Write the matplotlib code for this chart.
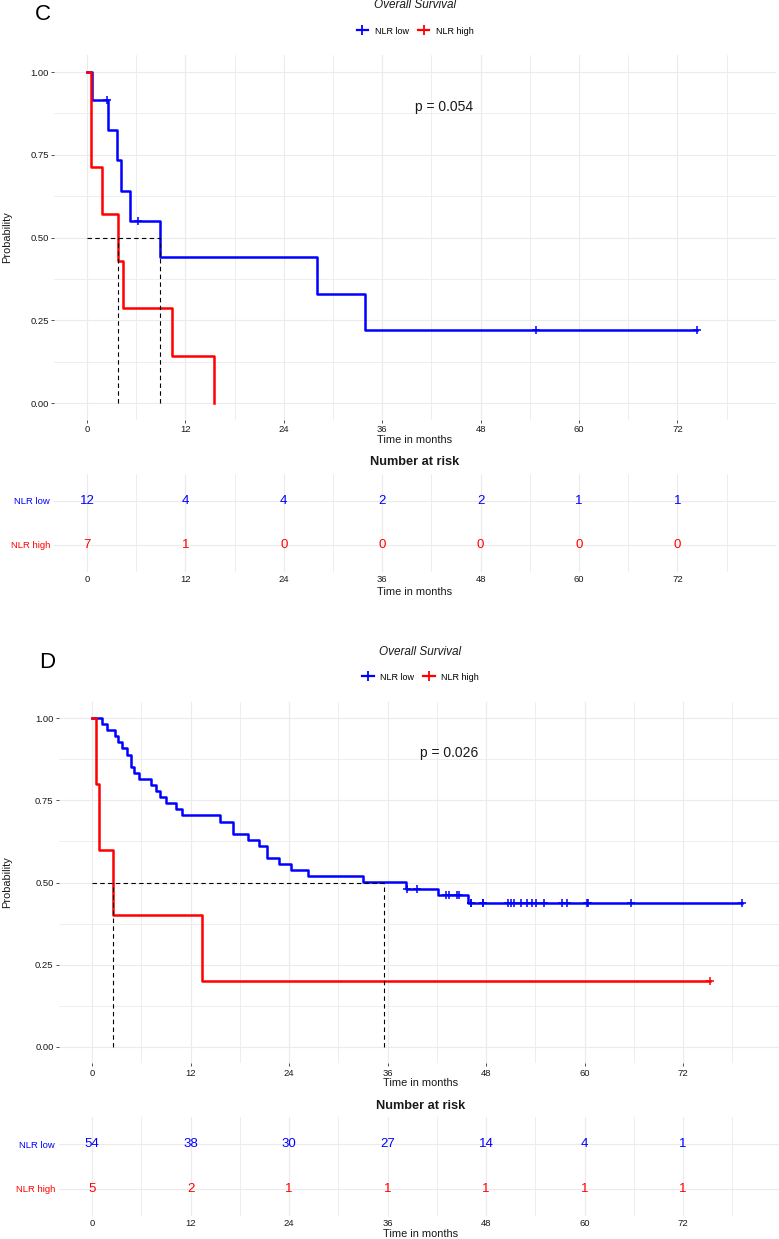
import matplotlib
matplotlib.use("Agg")
import matplotlib.pyplot as plt
from matplotlib.lines import Line2D
import numpy as np

plt.rcParams['font.family'] = ['Liberation Sans', 'DejaVu Sans']

# panel C: follow-up in months, 1 = death, 0 = censored
c_low_time = [0.57, 2.4, 2.6, 3.7, 4.15, 5.3, 6.2, 8.9, 28.1, 33.9, 54.8, 74.4]
c_low_status = [1, 0, 1, 1, 1, 1, 0, 1, 1, 1, 0, 0]
c_high_time = [0.45, 0.45, 1.8, 3.8, 4.4, 10.4, 15.5]
c_high_status = [1, 1, 1, 1, 1, 1, 1]
c_pval = "p = 0.054"
c_risk_low = [12, 4, 4, 2, 2, 1, 1]
c_risk_high = [7, 1, 0, 0, 0, 0, 0]

# panel D
d_low_time = [1.18, 1.87, 2.8, 3.13, 3.61, 4.3, 4.75, 4.75, 5.16, 5.72, 7.19, 7.8,
              8.28, 8.97, 10.23, 10.92, 15.59, 17.21, 17.21, 18.96, 20.34, 21.36,
              21.36, 22.82, 24.2, 26.35, 33.05,
              38.2, 38.4, 39.6, 42.2, 43.1, 43.5, 44.5, 44.7, 45.8, 46.2, 46.2,
              47.6, 47.6, 50.7, 51.0, 51.4, 52.3, 53.0, 53.6, 54.1, 55.1, 57.2,
              57.8, 60.25, 60.4, 65.7, 79.2]
d_low_status = [1] * 27 + [1, 0, 0, 1, 0, 0, 0, 0, 1] + [0] * 18
d_high_time = [0.45, 0.85, 2.6, 13.4, 75.3]
d_high_status = [1, 1, 1, 1, 0]
d_pval = "p = 0.026"
d_risk_low = [54, 38, 30, 27, 14, 4, 1]
d_risk_high = [5, 2, 1, 1, 1, 1, 1]

risk_times = [0, 12, 24, 36, 48, 60, 72]
groups = ["NLR low", "NLR high"]
colors = ["#0000FF", "#FF0000"]

W, H = 779, 1239
fig = plt.figure(figsize=(W / 100, H / 100), dpi=100)
GRID = "#EBEBEB"
TXT = "#1A1A1A"


def rect(l, t, r, b):
    return [l / W, 1 - b / H, (r - l) / W, (b - t) / H]


def ftext(x, y, s, **kw):
    fig.text(x / W, 1 - y / H, s, **kw)


def km(times, status):
    times = np.asarray(times, float)
    status = np.asarray(status, int)
    s = 1.0
    xs, ys = [0.0], [1.0]
    for t in np.unique(times[status == 1]):
        n = np.sum(times >= t)
        d = np.sum((times == t) & (status == 1))
        s *= (n - d) / n
        xs.append(t)
        ys.append(s)
    xs, ys = np.array(xs), np.array(ys)
    cens = times[status == 0]
    cs = ys[np.searchsorted(xs, cens, side="right") - 1]
    return xs, ys, cens, cs


def km_median(xs, ys):
    # same rule as R survival: a flat stretch at exactly 0.5 gives its midpoint
    for i in range(1, len(xs)):
        if abs(ys[i] - 0.5) < 1e-9:
            return (xs[i] + xs[i + 1]) / 2 if i + 1 < len(xs) else xs[i]
        if ys[i] < 0.5:
            return xs[i]
    return None


def style_grid(ax):
    for s in ax.spines.values():
        s.set_visible(False)
    ax.set_xlim(-4, 84)
    ax.set_xticks(risk_times)
    ax.set_xticks([6, 18, 30, 42, 54, 66, 78, 84], minor=True)
    ax.grid(which="major", color=GRID, lw=0.8)
    ax.grid(which="minor", axis="x", color=GRID, lw=0.6)
    ax.set_axisbelow(True)
    ax.tick_params(which="minor", length=0)


def panel(letter, x0, ppm, y1, y0, r1, r2, ty, ly, xly, nty, rxly, pval,
          data, risks):
    left, right = x0 - 4 * ppm, x0 + 84 * ppm
    span = y0 - y1
    ax = fig.add_axes(rect(left, y1 - 0.05 * span, right, y0 + 0.05 * span))
    style_grid(ax)
    ax.set_ylim(-0.05, 1.05)
    ax.set_yticks([0, 0.25, 0.5, 0.75, 1.0])
    ax.set_yticklabels(["0.00", "0.25", "0.50", "0.75", "1.00"])
    ax.set_yticks([0.125, 0.375, 0.625, 0.875], minor=True)
    ax.grid(which="minor", axis="y", color=GRID, lw=0.6)
    ax.tick_params(which="major", length=2.5, width=0.6, color="#333333",
                   labelsize=6.8, labelcolor=TXT, pad=1.5)

    medians = []
    for (tm, st), col in zip(data, colors):
        xs, ys, cx, cy = km(tm, st)
        sx = np.append(xs, max(tm))
        sy = np.append(ys, ys[-1])
        ax.step(sx, sy, where="post", color=col, lw=1.8, zorder=3)
        ax.plot(cx, cy, ls="none", marker="+", ms=6, mew=1.1, color=col,
                zorder=3)
        medians.append(km_median(xs, ys))
    ax.plot([0, max(medians)], [0.5, 0.5], color="black", lw=0.8,
            ls=(0, (4, 3)), zorder=4)
    for m in medians:
        ax.plot([m, m], [0, 0.5], color="black", lw=0.8, ls=(0, (4, 3)),
                zorder=4)
    ax.text(40, 0.895, pval, fontsize=10, ha="left", va="center", color=TXT)

    cx_mid = (left + right) / 2
    ftext(cx_mid, ty, "Overall Survival", fontsize=8.5, style="italic",
          ha="center", va="center", color=TXT)
    handles = [Line2D([], [], color=c, lw=1.6, marker="+", ms=6.5, mew=1.3)
               for c in colors]
    fig.legend(handles, groups, loc="center", ncol=2, frameon=False,
               bbox_to_anchor=(cx_mid / W, 1 - ly / H), fontsize=6.5,
               handlelength=1.3, handletextpad=0.7, columnspacing=1.0,
               borderpad=0)
    ftext(cx_mid, xly, "Time in months", fontsize=7.9, ha="center",
          va="center", color=TXT)
    ftext(7, (y1 + y0) / 2, "Probability", fontsize=7.9, ha="center",
          va="center", rotation=90, color=TXT)

    ftext(cx_mid, nty, "Number at risk", fontsize=9.2, fontweight="bold",
          ha="center", va="center", color=TXT)
    rs = r2 - r1
    rax = fig.add_axes(rect(left, r1 - 0.6 * rs, right, r2 + 0.6 * rs))
    style_grid(rax)
    rax.set_ylim(0.4, 2.6)
    rax.set_yticks([2, 1])
    rax.set_yticklabels(groups)
    rax.tick_params(which="major", length=0, labelsize=6.8, pad=3,
                    labelcolor=TXT)
    rax.tick_params(axis="x", pad=2.5)
    for lab, c in zip(rax.get_yticklabels(), colors):
        lab.set_color(c)
    for row, vals, c in zip([2, 1], risks, colors):
        for t, n in zip(risk_times, vals):
            rax.text(t, row, str(n), ha="center", va="center", fontsize=9.5,
                     color=c)
    ftext(cx_mid, rxly, "Time in months", fontsize=7.9, ha="center",
          va="center", color=TXT)
    ftext(left - 11.5, ty + 10, letter, fontsize=16, ha="center",
          va="center", color="black")


panel("C", 87, 8.2, 72, 403, 500.7, 545, 5, 31, 440, 462, 592, c_pval,
      [(c_low_time, c_low_status), (c_high_time, c_high_status)],
      [c_risk_low, c_risk_high])
panel("D", 92, 8.21, 718, 1047, 1144.3, 1189, 652, 677, 1083.5, 1105.7,
      1234, d_pval,
      [(d_low_time, d_low_status), (d_high_time, d_high_status)],
      [d_risk_low, d_risk_high])

fig.savefig("out.png", dpi=100, facecolor="white")
